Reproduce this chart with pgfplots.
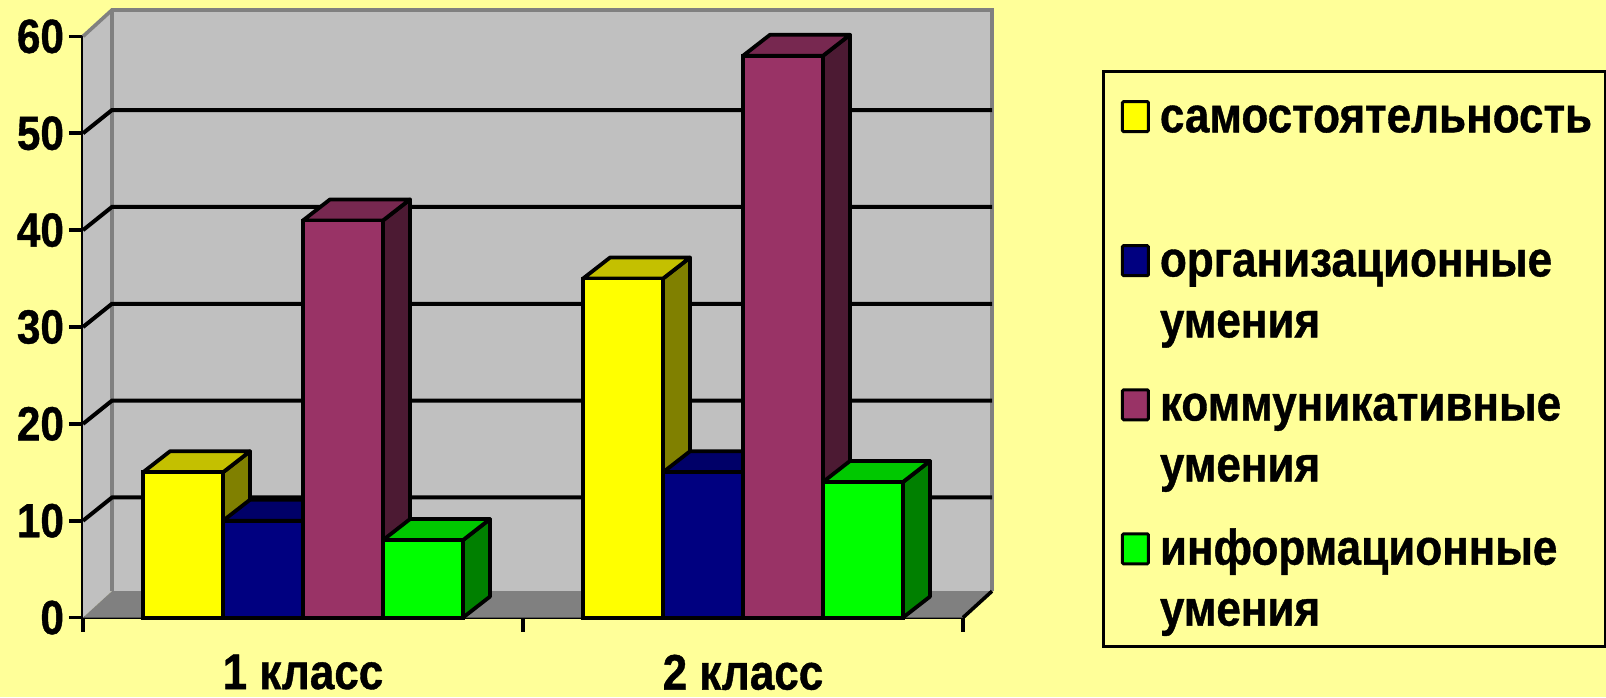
\documentclass[border=0pt]{standalone}
\usepackage{fontspec}
\setmainfont{Liberation Sans}
\newfontfamily\heavy[FakeStretch=0.88,FakeBold=0.8]{Liberation Sans}
\usepackage{pgfplots}
\pgfplotsset{compat=1.18}

\definecolor{bg}{HTML}{FFFF99}
\definecolor{wall}{HTML}{C0C0C0}
\definecolor{floorc}{HTML}{808080}
\definecolor{yfront}{HTML}{FFFF00}
\definecolor{ytop}{HTML}{C4C000}
\definecolor{yside}{HTML}{808000}
\definecolor{bfront}{HTML}{000080}
\definecolor{btop}{HTML}{000068}
\definecolor{bside}{HTML}{000040}
\definecolor{pfront}{HTML}{993366}
\definecolor{ptop}{HTML}{772850}
\definecolor{pside}{HTML}{4C1A33}
\definecolor{gfront}{HTML}{00FF00}
\definecolor{gtop}{HTML}{00C800}
\definecolor{gside}{HTML}{008000}

% bar width and depth in axis units
\def\bw{0.1818}
\def\ddx{0.0614}
\def\ddy{2.17}
\pgfplotsset{
  swatch/.style={legend image code/.code={
    \path (0pt,5.7pt);
    \draw[fill=#1,draw=black,line width=1.5pt,rounded corners=0.6pt] (2.5pt,5.7pt) rectangle (15.5pt,20.7pt);}},
  face/.style={fill=#1,draw=black,line width=1.9pt,line join=round,forget plot},
  front/.style={ybar,bar width=0.1818,fill=#1,draw=black,line width=1.9pt,swatch=#1},
}
% #1 top colour, #2 side colour, #3 x of category plus shift, #4 value
\newcommand{\depthfaces}[4]{%
  \pgfmathsetmacro{\xl}{#3-\bw/2}%
  \pgfmathsetmacro{\xr}{#3+\bw/2}%
  \pgfmathsetmacro{\xlb}{\xl+\ddx}%
  \pgfmathsetmacro{\xrb}{\xr+\ddx}%
  \pgfmathsetmacro{\yb}{#4+\ddy}%
  \addplot[face=#2] coordinates {(\xr,0)(\xrb,\ddy)(\xrb,\yb)(\xr,#4)} --cycle;
  \addplot[face=#1] coordinates {(\xl,#4)(\xlb,\yb)(\xrb,\yb)(\xr,#4)} --cycle;
}
\newcommand{\legendtext}[2]{\parbox[t]{215pt}{\strut #1\\\strut #2}}

\begin{document}
\begin{tikzpicture}
\path[use as bounding box,fill=bg] (0,0) rectangle (803pt,348.5pt);
\begin{axis}[
  at={(41.5pt,39.7pt)}, anchor=south west,
  scale only axis, width=440pt, height=290.6pt,
  xmin=-0.5, xmax=1.5, ymin=0, ymax=60,
  clip=false,
  axis x line*=bottom, axis y line*=left,
  axis line style={black,line width=1.8pt},
  tick style={black,line width=1.8pt},
  tick align=outside, major tick length=7pt,
  ytick={0,10,20,30,40,50,60},
  xtick={-0.5,0.5,1.5},
  x tick label as interval,
  xticklabels={1 класс,2 класс},
  /pgf/number format/assume math mode=true,
  yticklabel style={font=\fontsize{24}{25}\heavy\bfseries\selectfont,xshift=1pt},
  xticklabel style={font=\fontsize{25}{25}\heavy\bfseries\selectfont,yshift=-8pt},
  legend cell align=left,
  legend style={
    at={(1.158,0.942)}, anchor=north west,
    draw=black, line width=1.5pt, fill=none,
    inner xsep=6pt, inner ysep=7pt,
    row sep=14.7pt, column sep=3pt,
    nodes={inner sep=2pt,font=\fontsize{25}{30.5}\heavy\bfseries\selectfont,text width=215pt,text depth=32pt,line width=0pt},
  },
]
% walls and floor
\addplot[fill=wall,draw=none,forget plot] coordinates {(-0.5,0)(-0.4341,2.73)(-0.4341,62.73)(-0.5,60)} --cycle;
\addplot[fill=wall,draw=none,forget plot] coordinates {(-0.4341,2.73)(-0.4341,62.73)(1.5659,62.73)(1.5659,2.73)} --cycle;
\addplot[fill=floorc,draw=none,forget plot] coordinates {(-0.5,0)(-0.4341,2.73)(1.5659,2.73)(1.5,0)} --cycle;
\addplot[draw=floorc,line width=1.8pt,forget plot] coordinates {(-0.5,60)(-0.4341,62.73)(1.5659,62.73)(1.5659,2.73)};
\addplot[draw=floorc,line width=1.8pt,forget plot] coordinates {(-0.4341,2.73)(-0.4341,62.73)};
\addplot[draw=black,line width=1.8pt,forget plot] coordinates {(1.5,0)(1.5659,2.73)};
% grid lines
\addplot[draw=black,line width=2pt,forget plot] coordinates {(-0.5,10)(-0.4341,12.4)(1.5659,12.4)};
\addplot[draw=black,line width=2pt,forget plot] coordinates {(-0.5,20)(-0.4341,22.4)(1.5659,22.4)};
\addplot[draw=black,line width=2pt,forget plot] coordinates {(-0.5,30)(-0.4341,32.4)(1.5659,32.4)};
\addplot[draw=black,line width=2pt,forget plot] coordinates {(-0.5,40)(-0.4341,42.4)(1.5659,42.4)};
\addplot[draw=black,line width=2pt,forget plot] coordinates {(-0.5,50)(-0.4341,52.4)(1.5659,52.4)};
% series
\depthfaces{ytop}{yside}{-0.2727}{15}
\depthfaces{ytop}{yside}{0.7273}{35}
\addplot[front=yfront,bar shift=-0.2727] coordinates {(0,15)(1,35)};
\addlegendentry{\legendtext{самостоятельность}{}}
\depthfaces{btop}{bside}{-0.0909}{10}
\depthfaces{btop}{bside}{0.9091}{15}
\addplot[front=bfront,bar shift=-0.0909] coordinates {(0,10)(1,15)};
\addlegendentry{\legendtext{организационные}{умения}}
\depthfaces{ptop}{pside}{0.0909}{41}
\depthfaces{ptop}{pside}{1.0909}{58}
\addplot[front=pfront,bar shift=0.0909] coordinates {(0,41)(1,58)};
\addlegendentry{\legendtext{коммуникативные}{умения}}
\depthfaces{gtop}{gside}{0.2727}{8}
\depthfaces{gtop}{gside}{1.2727}{14}
\addplot[front=gfront,bar shift=0.2727] coordinates {(0,8)(1,14)};
\addlegendentry{\legendtext{информационные}{умения}}
\end{axis}
\end{tikzpicture}
\end{document}
